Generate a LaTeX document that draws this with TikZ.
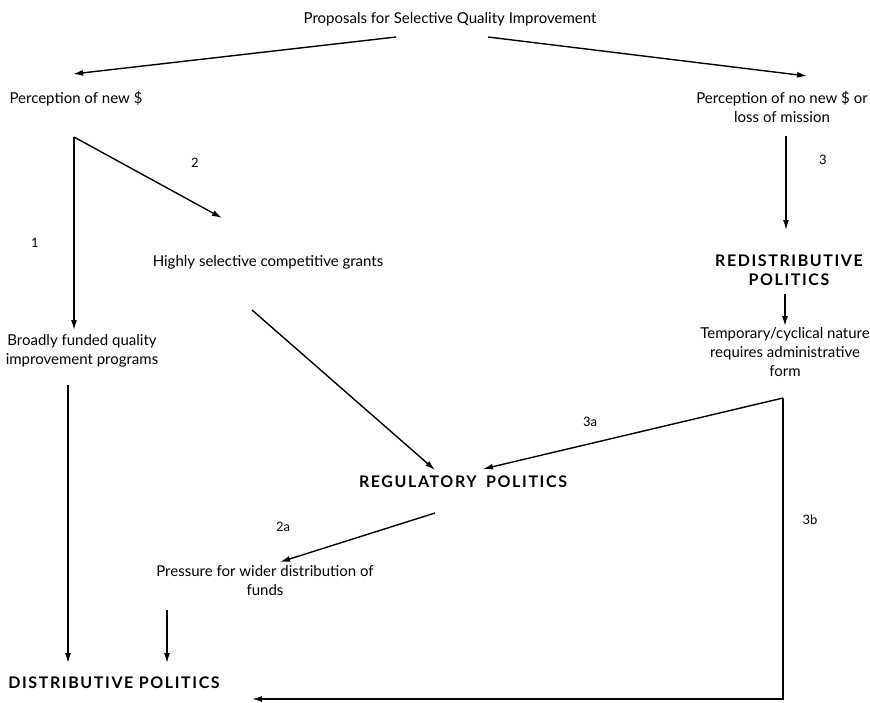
\documentclass[tikz,border=0pt]{standalone}
\usepackage{fontspec}
\setmainfont{Lato}
\usetikzlibrary{positioning, arrows.meta}

\begin{document}
\begin{tikzpicture}[
    x=1pt, y=-1pt,
    >=Latex,
    every node/.style={font=\fontsize{15}{19}\selectfont, align=center, inner sep=0pt},
    head/.style={font=\fontsize{16}{19}\selectfont\bfseries\addfontfeature{LetterSpace=10}},
    num/.style={font=\fontsize{13}{15}\selectfont},
    line/.style={-{Latex[length=10pt,width=6pt]}, line width=1.4pt}
]
\useasboundingbox[fill=white] (0,0) rectangle (870,702);

% --- Top: proposal and the two perceptions ---
\node (title) at (450,19) {Proposals for Selective Quality Improvement};
\node (newS) at (76,99) {Perception of new \$};
\node (nonewS) at (782,107) {Perception of no new \$ or\\loss of mission};

% --- Left column: new money ---
\node (grants) at (268,262) {Highly selective competitive grants};
\node (broad) at (82,351) {Broadly funded quality\\improvement programs};
\node[head] (reg) at (463,482) {REGULATORY\hspace{4pt} POLITICS};
\node (pressure) at (265,581) {Pressure for wider distribution of\\funds};
\node[head] (dist) at (114,683) {DISTRIBUTIVE POLITICS};

% --- Right column: no new money ---
\node[head] (redis) at (789,270) {REDISTRIBUTIVE\\POLITICS};
\node (temp) at (785,352) {Temporary/cyclical nature\\requires administrative\\form};

% --- Path numbers ---
\node[num] (n1) at (35,243) {1};
\node[num] (n2) at (195,163) {2};
\node[num] (n3) at (823,160) {3};
\node[num] (n2a) at (283,527) {2a};
\node[num] (n3a) at (590,422) {3a};
\node[num] (n3b) at (810,520) {3b};

% --- Branch points ---
\coordinate (fork) at ([shift={(-2,38)}]newS.center);
\coordinate (split) at ([shift={(-2,46)}]temp.center);

% --- Connections ---
\draw[line] ([shift={(-54,18)}]title.center) -- ([shift={(-3,-25)}]newS.center);
\draw[line] ([shift={(38,18)}]title.center) -- ([shift={(25,-31)}]nonewS.center);

\draw[line] (fork) -- ([shift={(-8,-21)}]broad.center);
\draw[line] (fork) -- ([shift={(-46,-44)}]grants.center);
\draw[line] ([shift={(-14,34)}]broad.center) -- ([shift={(-46,-20)}]dist.center);
\draw[line] ([shift={(-16,48)}]grants.center) -- ([shift={(-28,-12)}]reg.center);
\draw[line] ([shift={(-28,31)}]reg.center) -- ([shift={(15,-19)}]pressure.center);
\draw[line] ([shift={(-98,29)}]pressure.center) -- ([shift={(53,-20)}]dist.center);

\draw[line] ([shift={(4,29)}]nonewS.center) -- ([shift={(-3,-40)}]redis.center);
\draw[line] ([shift={(-4,24)}]redis.center) -- ([shift={(0,-26)}]temp.center);
\draw[line] (split) -- ([shift={(20,-13)}]reg.center);
\draw[line] (split) |- ([shift={(138,16)}]dist.center);

\end{tikzpicture}
\end{document}
